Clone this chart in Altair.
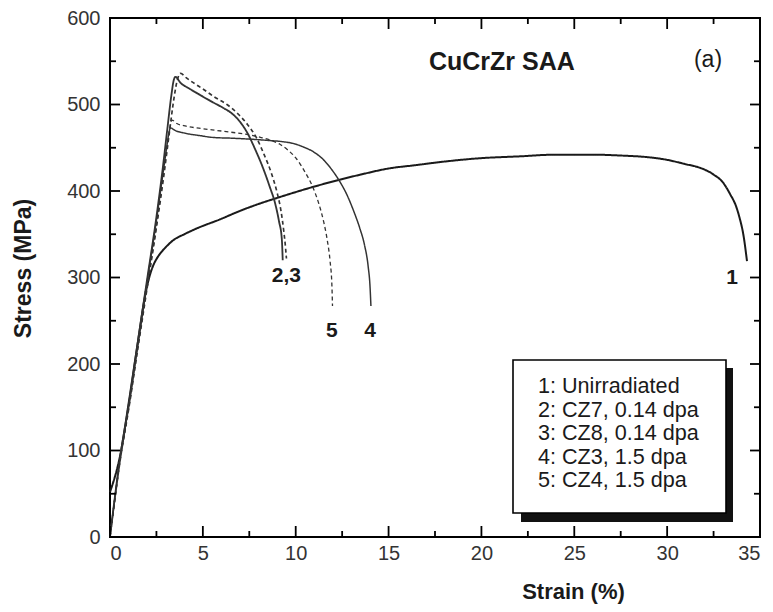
import altair as alt
import pandas as pd

# ---------------- data ----------------
series_labels = [
    "1: Unirradiated",
    "2: CZ7, 0.14 dpa",
    "3: CZ8, 0.14 dpa",
    "4: CZ3, 1.5 dpa",
    "5: CZ4, 1.5 dpa",
]

strain_1 = [0, 0.6, 1.0, 1.5, 1.9, 2.15, 2.35, 2.55, 2.75, 3.0, 3.4, 4.0, 4.7, 5.9, 7.0, 8.0, 9.0,
            10.5, 12.0, 13.5, 15.0, 16.5, 18.0, 20.0, 22.0, 24.0, 26.0, 27.5, 29.0, 30.0, 31.0,
            31.6, 32.5, 33.0, 33.4, 33.7, 33.9, 34.1, 34.3]
stress_1 = [52, 100, 154, 225, 280, 303, 315, 323, 329, 335, 343, 350, 357, 367, 377, 385, 392,
            402, 411, 419, 426, 430, 434, 438, 440, 442, 442, 441, 439, 436, 431,
            428, 419, 410, 396, 383, 369, 350, 319]

strain_2 = [0, 0.6, 1.0, 1.5, 2.0, 2.5, 2.85, 3.1, 3.3, 3.42, 3.52, 3.8, 4.3, 4.85, 5.5, 6.1, 6.6,
            7.0, 7.4, 7.8, 8.25, 8.6, 8.9, 9.1, 9.25, 9.3]
stress_2 = [0, 100, 152, 226, 298, 370, 428, 474, 510, 527, 532, 525, 518, 511, 503, 496, 489,
            480, 467, 449, 426, 405, 385, 365, 345, 320]

strain_3 = [0, 0.6, 1.0, 1.5, 2.0, 2.5, 2.9, 3.2, 3.45, 3.62, 3.8, 4.1, 4.5, 5.0, 5.6, 6.3, 6.9,
            7.4, 7.9, 8.3, 8.7, 9.0, 9.2, 9.35, 9.45, 9.5]
stress_3 = [0, 96, 147, 218, 288, 358, 418, 468, 508, 528, 536, 531, 525, 518, 509, 500, 489,
            477, 461, 442, 420, 398, 378, 355, 335, 322]

strain_4 = [0, 0.6, 1.0, 1.5, 2.0, 2.5, 2.85, 3.05, 3.18, 3.25, 3.5, 4.0, 4.85, 5.5, 6.6, 7.5,
            8.5, 9.3, 9.86, 10.4, 10.9, 11.5, 12.0, 12.4, 12.75, 13.1, 13.45, 13.7, 13.9, 14.0, 14.05]
stress_4 = [0, 98, 150, 223, 295, 366, 420, 450, 468, 473, 470, 467, 464, 462, 461, 460,
            458.5, 457, 455, 451, 446, 436, 423, 410, 396, 378, 357, 338, 313, 290, 267]

strain_5 = [0, 0.6, 1.0, 1.5, 2.0, 2.5, 2.85, 3.1, 3.25, 3.33, 3.6, 4.1, 5.0, 5.75, 6.5, 7.5, 8.1,
            8.6, 9.15, 9.6, 10.05, 10.5, 10.95, 11.25, 11.5, 11.7, 11.85, 11.95, 11.98]
stress_5 = [0, 97, 148, 220, 290, 360, 415, 455, 476, 482, 478, 475, 472, 470, 468, 465, 462,
            459, 454, 447, 437, 422, 403, 385, 365, 343, 319, 290, 267]

curve_labels = ["2,3", "5", "4", "1"]
curve_label_strain = [9.5, 11.95, 14.0, 33.5]
curve_label_stress = [302, 238, 238, 300]

x_major = [0, 5, 10, 15, 20, 25, 30, 35]
x_minor = [2.5, 7.5, 12.5, 17.5, 22.5, 27.5, 32.5]
y_major = [0, 100, 200, 300, 400, 500, 600]
y_minor = [50, 150, 250, 350, 450, 550]

title_text = ["CuCrZr SAA"]
title_strain = [21.1]
title_stress = [549]
panel_text = ["(a)"]
panel_strain = [32.2]
panel_stress = [551]

# ---------------- build tables ----------------
strains = [strain_1, strain_2, strain_3, strain_4, strain_5]
stresses = [stress_1, stress_2, stress_3, stress_4, stress_5]
rows = []
for lab, xs, ys in zip(series_labels, strains, stresses):
    for i, (xv, yv) in enumerate(zip(xs, ys)):
        rows.append({"series": lab, "strain": xv, "stress": yv, "idx": i})
df = pd.DataFrame(rows)

W, H = 650, 519
FONT = "Liberation Sans"
INK = "#1a1a1a"

xscale = alt.Scale(domain=[0, 35], nice=False, zero=False)
yscale = alt.Scale(domain=[0, 600], nice=False, zero=False)

x_axis = alt.Axis(
    values=x_major, format="d", ticks=False, domain=False, grid=False,
    labelFont=FONT, labelFontSize=20, labelColor="#333", labelPadding=6,
    title="Strain (%)", titleFont=FONT, titleFontSize=22, titleFontWeight="bold",
    titleColor=INK, titleX=463, titleY=61, titleAlign="center", titleBaseline="alphabetic",
)
y_axis = alt.Axis(
    values=y_major, format="d", ticks=False, domain=False, grid=False,
    labelFont=FONT, labelFontSize=20, labelColor="#333", labelPadding=10,
    title="Stress (MPa)", titleFont=FONT, titleFontSize=23, titleFontWeight="bold",
    titleColor=INK, titleAngle=270, titleX=-87, titleY=250, titleAlign="center",
    titleBaseline="middle",
)

lines = alt.Chart(df).mark_line(interpolate="monotone").encode(
    x=alt.X("strain:Q", scale=xscale, axis=x_axis),
    y=alt.Y("stress:Q", scale=yscale, axis=y_axis),
    detail="series:N",
    order="idx:Q",
    color=alt.Color(
        "series:N",
        scale=alt.Scale(domain=series_labels,
                        range=["#1a1a1a", "#333333", "#333333", "#333333", "#333333"]),
        legend=None,
    ),
    strokeDash=alt.StrokeDash(
        "series:N",
        scale=alt.Scale(domain=series_labels,
                        range=[[1, 0], [1, 0], [4, 3], [1, 0], [4, 3]]),
        legend=None,
    ),
    strokeWidth=alt.StrokeWidth(
        "series:N",
        scale=alt.Scale(domain=series_labels, range=[2.0, 1.3, 1.4, 1.3, 1.4]),
        legend=None,
    ),
)

one = pd.DataFrame({"k": [0]})
shadow = alt.Chart(one).mark_rect(color="#111").encode(
    x=alt.value(411), x2=alt.value(623), y=alt.value(350), y2=alt.value(504)
)
box = alt.Chart(one).mark_rect(fill="white", stroke="black", strokeWidth=1.6).encode(
    x=alt.value(403), x2=alt.value(616), y=alt.value(342), y2=alt.value(495)
)

# legend text: the series labels, one per line
leg_df = pd.DataFrame({"t": ["\n".join(series_labels)]})
legend_text = alt.Chart(leg_df).mark_text(
    font=FONT, fontSize=21.6, color=INK, align="left", baseline="alphabetic",
    lineBreak="\n", lineHeight=23.5,
).encode(x=alt.value(428), y=alt.value(375), text="t:N")

lab_df = pd.DataFrame({"t": curve_labels, "strain": curve_label_strain, "stress": curve_label_stress})
curve_text = alt.Chart(lab_df).mark_text(
    font=FONT, fontSize=21, fontWeight="bold", color=INK, align="center", baseline="middle"
).encode(x=alt.X("strain:Q", scale=xscale), y=alt.Y("stress:Q", scale=yscale), text="t:N")

tdf = pd.DataFrame({"t": title_text, "strain": title_strain, "stress": title_stress})
title_mark = alt.Chart(tdf).mark_text(
    font=FONT, fontSize=25, fontWeight="bold", color=INK, align="center", baseline="middle"
).encode(x=alt.X("strain:Q", scale=xscale), y=alt.Y("stress:Q", scale=yscale), text="t:N")

pdf = pd.DataFrame({"t": panel_text, "strain": panel_strain, "stress": panel_stress})
panel_mark = alt.Chart(pdf).mark_text(
    font=FONT, fontSize=23, color=INK, align="center", baseline="middle"
).encode(x=alt.X("strain:Q", scale=xscale), y=alt.Y("stress:Q", scale=yscale), text="t:N")

# ---------------- inward ticks on all four sides ----------------
def xticks(vals, length):
    d = pd.DataFrame({"v": vals})
    base = alt.Chart(d).mark_rule(color="black", strokeWidth=1.8)
    bottom = base.encode(x=alt.X("v:Q", scale=xscale), y=alt.value(H), y2=alt.value(H - length))
    top = base.encode(x=alt.X("v:Q", scale=xscale), y=alt.value(0), y2=alt.value(length))
    return [bottom, top]

def yticks(vals, length):
    d = pd.DataFrame({"v": vals})
    base = alt.Chart(d).mark_rule(color="black", strokeWidth=1.8)
    left = base.encode(y=alt.Y("v:Q", scale=yscale), x=alt.value(0), x2=alt.value(length))
    right = base.encode(y=alt.Y("v:Q", scale=yscale), x=alt.value(W), x2=alt.value(W - length))
    return [left, right]

tick_layers = xticks(x_major, 11) + xticks(x_minor, 6) + yticks(y_major, 10) + yticks(y_minor, 6)

chart = alt.layer(
    lines, *tick_layers, shadow, box, legend_text, curve_text, title_mark, panel_mark
).properties(
    width=W, height=H,
    autosize=alt.AutoSizeParams(type="none"),
    padding={"left": 102, "top": 10, "right": 5, "bottom": 67},
    background="white",
).configure_view(
    stroke="black", strokeWidth=2
)

chart.save("out.html", embed_options={"renderer": "svg", "actions": False})
